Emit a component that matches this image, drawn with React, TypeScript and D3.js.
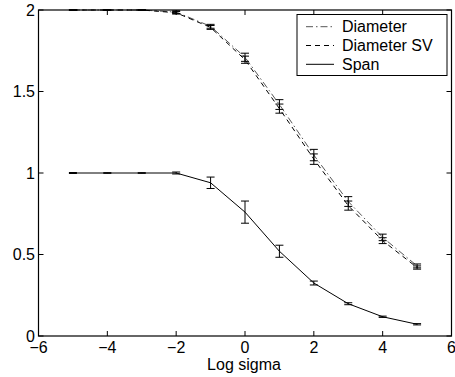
import React from "react";
import * as d3 from "d3";

const xs = [-5, -4, -3, -2, -1, 0, 1, 2, 3, 4, 5];
const diameter = [2.0, 2.0, 2.0, 1.987, 1.9, 1.71, 1.42, 1.11, 0.825, 0.605, 0.43];
const diameterErr = [0.003, 0.003, 0.003, 0.008, 0.012, 0.025, 0.03, 0.035, 0.03, 0.02, 0.012];
const diameterSV = [2.0, 2.0, 2.0, 1.983, 1.893, 1.695, 1.395, 1.085, 0.8, 0.585, 0.42];
const diameterSVErr = [0.003, 0.003, 0.003, 0.008, 0.012, 0.022, 0.028, 0.032, 0.028, 0.018, 0.01];
const span = [1.0, 1.0, 1.0, 1.0, 0.94, 0.76, 0.52, 0.325, 0.198, 0.118, 0.072];
const spanErr = [0.003, 0.002, 0.002, 0.006, 0.035, 0.068, 0.037, 0.012, 0.006, 0.004, 0.004];
const xTicks = [-6, -4, -2, 0, 2, 4, 6];
const yTicks = [0, 0.5, 1, 1.5, 2];
const seriesNames = ["Diameter", "Diameter SV", "Span"];

export default function App() {
  const W = 455, H = 377;
  const x = d3.scaleLinear().domain([-6, 6]).range([38.5, 451.5]);
  const y = d3.scaleLinear().domain([0, 2]).range([336, 10]);
  const font = "Liberation Sans, Arial, sans-serif";
  const fs = 16;
  const series = [
    { name: seriesNames[0], vals: diameter, err: diameterErr, dash: "7,3,1.5,3", color: "#444", w: 0.9 },
    { name: seriesNames[1], vals: diameterSV, err: diameterSVErr, dash: "5,4", color: "#000", w: 1 },
    { name: seriesNames[2], vals: span, err: spanErr, dash: "", color: "#000", w: 1 },
  ];
  const line = d3.line<number>().x((_, i) => x(xs[i])).y((v) => y(v));
  const fmtX = (v: number) => (v < 0 ? "\u2212" + Math.abs(v) : String(v));
  const [x0, x1] = x.range();
  const [y0, y1] = y.range();
  const tl = 5;
  const legX = 297, legY = 14.5, legW = 150, legH = 61;
  return (
    <svg width={W} height={H} style={{ position: "absolute", left: 0, top: 0, background: "#fff" }}>
      <rect x={0} y={0} width={W} height={H} fill="#fff" />
      {series.map((s) => (
        <g key={s.name}>
          <path d={line(s.vals) || ""} fill="none" stroke={s.color} strokeWidth={s.w} strokeDasharray={s.dash || undefined} />
          {xs.map((xv, i) => {
            const cx = x(xv);
            const top = y(s.vals[i] + s.err[i]);
            const bot = y(s.vals[i] - s.err[i]);
            return (
              <g key={i} stroke="#000" strokeWidth={1}>
                <line x1={cx} x2={cx} y1={top} y2={bot} />
                <line x1={cx - 4} x2={cx + 4} y1={top} y2={top} />
                <line x1={cx - 4} x2={cx + 4} y1={bot} y2={bot} />
              </g>
            );
          })}
        </g>
      ))}
      {/* frame */}
      <rect x={x0} y={y1} width={x1 - x0} height={y0 - y1} fill="none" stroke="#000" strokeWidth={1.2} />
      {xTicks.map((t) => (
        <g key={"x" + t}>
          <line x1={x(t)} x2={x(t)} y1={y0} y2={y0 - tl} stroke="#000" />
          <line x1={x(t)} x2={x(t)} y1={y1} y2={y1 + tl} stroke="#000" />
          <text x={x(t)} y={353} textAnchor="middle" fontFamily={font} fontSize={fs}>
            {fmtX(t)}
          </text>
        </g>
      ))}
      {yTicks.map((t) => (
        <g key={"y" + t}>
          <line x1={x0} x2={x0 + tl} y1={y(t)} y2={y(t)} stroke="#000" />
          <line x1={x1} x2={x1 - tl} y1={y(t)} y2={y(t)} stroke="#000" />
          <text x={35} y={y(t) + 5.7} textAnchor="end" fontFamily={font} fontSize={fs}>
            {String(t)}
          </text>
        </g>
      ))}
      <text x={244} y={370} textAnchor="middle" fontFamily={font} fontSize={fs}>
        Log sigma
      </text>
      {/* legend */}
      <rect x={legX} y={legY} width={legW} height={legH} fill="#fff" stroke="#000" strokeWidth={1} />
      {series.map((s, i) => {
        const ly = 26.7 + i * 18.8;
        return (
          <g key={"l" + s.name}>
            <line x1={306} x2={334} y1={ly} y2={ly} stroke={s.color} strokeWidth={s.w} strokeDasharray={s.dash || undefined} />
            <text x={342} y={ly + 5.6} fontFamily={font} fontSize={fs}>
              {s.name}
            </text>
          </g>
        );
      })}
    </svg>
  );
}
